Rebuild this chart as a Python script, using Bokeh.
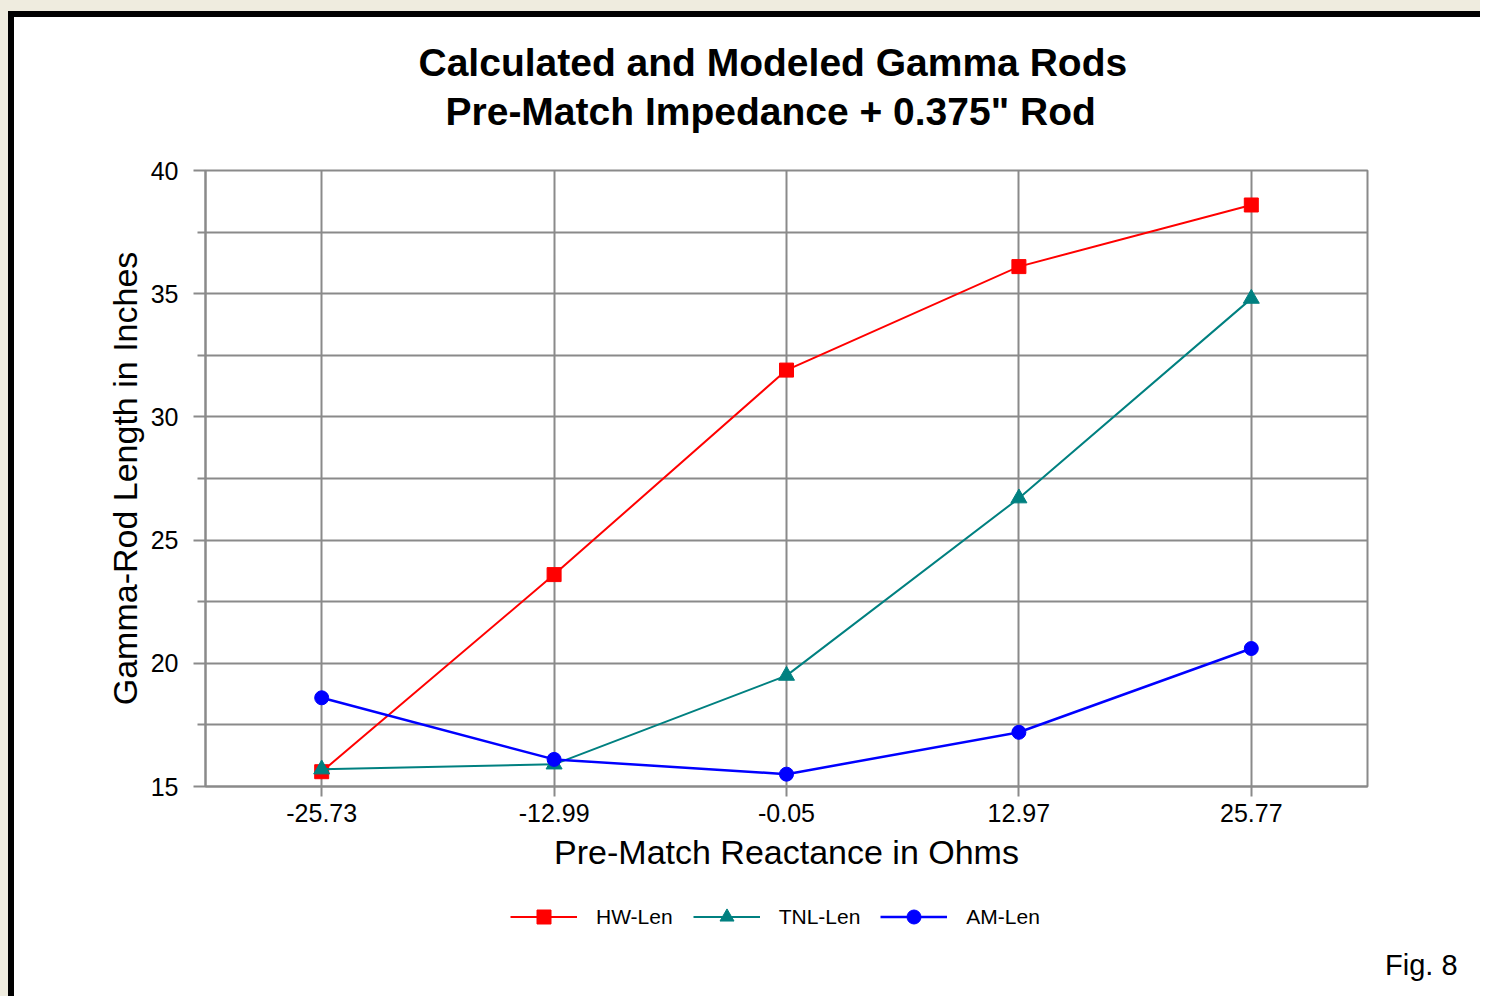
from bokeh.plotting import figure
from bokeh.models import (FactorRange, Range1d, FixedTicker, Legend, LegendItem,
                          Title, ColumnDataSource)
from bokeh.layouts import column
from bokeh.embed import file_html
from bokeh.resources import INLINE

# ---- data ----
reactance = ["-25.73", "-12.99", "-0.05", "12.97", "25.77"]
hw_len = [15.6, 23.6, 31.9, 36.1, 38.6]
tnl_len = [15.7, 15.9, 19.5, 26.7, 34.8]
am_len = [18.6, 16.1, 15.5, 17.2, 20.6]
y_ticks = [15, 20, 25, 30, 35, 40]
y_minor = [17.5, 22.5, 27.5, 32.5, 37.5]
series_names = ["HW-Len", "TNL-Len", "AM-Len"]
series_colors = ["#ff0000", "#008080", "#0000ff"]
series_markers = ["square", "triangle", "circle"]
series_marker_sizes = [14, 16, 14]
series_widths = [2, 2, 2.5]
fig_number = "Fig. 8"

FONT = "Liberation Sans"
GRID = "#8a8a8a"

p = figure(x_range=FactorRange(factors=reactance), y_range=Range1d(15, 40),
           frame_width=1162, frame_height=616, output_backend="svg",
           toolbar_location=None, title=None,
           min_border_left=191, min_border_right=113, min_border_top=153,
           min_border_bottom=100, background_fill_color="white",
           border_fill_color="white")

# titles (second-added sits above the first)
p.add_layout(Title(text="Pre-Match Impedance + 0.375\" Rod", align="left", offset=240,
                   text_font=FONT, text_font_size="39px", text_font_style="bold",
                   text_color="black", standoff=76), "above")
p.add_layout(Title(text="Calculated and Modeled Gamma Rods", align="left", offset=213,
                   text_font=FONT, text_font_size="39px", text_font_style="bold",
                   text_color="black", standoff=-68), "above")

p.outline_line_color = GRID
p.outline_line_width = 2

# grids
p.xgrid.grid_line_color = GRID
p.xgrid.grid_line_width = 2
p.ygrid.grid_line_color = GRID
p.ygrid.grid_line_width = 2
p.ygrid.minor_grid_line_color = GRID
p.ygrid.minor_grid_line_width = 2

# axes
p.yaxis.ticker = FixedTicker(ticks=y_ticks, minor_ticks=y_minor)
for ax in (p.xaxis[0], p.yaxis[0]):
    ax.axis_line_color = GRID
    ax.axis_line_width = 2
    ax.major_tick_line_color = GRID
    ax.major_tick_line_width = 2
    ax.minor_tick_line_color = GRID
    ax.minor_tick_line_width = 2
    ax.major_tick_in = 0
    ax.minor_tick_in = 0
    ax.major_label_text_font = FONT
    ax.major_label_text_font_size = "25px"
    ax.major_label_text_color = "black"
    ax.axis_label_text_font = FONT
    ax.axis_label_text_font_size = "34px"
    ax.axis_label_text_font_style = "normal"
    ax.axis_label_text_color = "black"

p.xaxis.major_tick_out = 10
p.xaxis.major_label_standoff = 7
p.xaxis.axis_label = "Pre-Match Reactance in Ohms"
p.xaxis.axis_label_standoff = 8

p.yaxis.major_tick_out = 12
p.yaxis.minor_tick_out = 8
p.yaxis.major_label_standoff = 15
p.yaxis.axis_label = "Gamma-Rod Length in Inches"
p.yaxis.axis_label_standoff = 4

src = ColumnDataSource(dict(x=reactance, hw=hw_len, tnl=tnl_len, am=am_len))
for col, color, mk, ms, lw in zip(["hw", "tnl", "am"], series_colors, series_markers,
                                  series_marker_sizes, series_widths):
    p.line("x", col, source=src, line_color=color, line_width=lw)
    p.scatter("x", col, source=src, marker=mk, size=ms,
              fill_color=color, line_color=color)

# ---- strip below the chart: legend and figure number ----
p2 = figure(frame_width=1466, frame_height=110, x_range=Range1d(0, 1466),
            y_range=Range1d(0, 110), output_backend="svg", toolbar_location=None,
            x_axis_type=None, y_axis_type=None,
            min_border=0, min_border_left=0, min_border_right=0,
            min_border_top=0, min_border_bottom=0,
            background_fill_color="white", border_fill_color="white")
p2.outline_line_color = None
p2.outline_line_alpha = 0

items = []
for name, color, mk, ms, lw in zip(series_names, series_colors, series_markers,
                                   series_marker_sizes, series_widths):
    swatch = ColumnDataSource(dict(x=[float("nan")], y=[float("nan")]))
    r1 = p2.line("x", "y", source=swatch, line_color=color, line_width=lw)
    r2 = p2.scatter("x", "y", source=swatch, marker=mk, size=ms,
                    fill_color=color, line_color=color)
    items.append(LegendItem(label=name, renderers=[r1, r2]))

legend = Legend(items=items, orientation="horizontal", location=(496, 62),
                label_text_font=FONT, label_text_font_size="21px",
                label_text_color="black", glyph_width=67, glyph_height=35,
                label_height=20, label_standoff=19, spacing=20, padding=0,
                margin=0, border_line_color=None, background_fill_alpha=0)
p2.add_layout(legend)

# figure number, laid out like the legend (text only, no swatch)
blank = ColumnDataSource(dict(x=[float("nan")], y=[float("nan")]))
r_blank = p2.line("x", "y", source=blank, line_alpha=0)
fig_note = Legend(items=[LegendItem(label=fig_number, renderers=[r_blank])],
                  orientation="horizontal", location=(1370, 14),
                  label_text_font=FONT, label_text_font_size="29px",
                  label_text_color="black", glyph_width=1, glyph_height=30,
                  label_height=30, label_standoff=0, padding=0, margin=0,
                  border_line_color=None, background_fill_alpha=0)
p2.add_layout(fig_note)

# white sheet holding both parts, so any sub-pixel seams show white
sheet = column(p, p2, spacing=0, styles={"background-color": "white"})
framed = column(sheet, styles={"background-color": "black", "padding-top": "6px",
                               "padding-left": "6px"})
layout = column(framed, styles={"background-color": "#efecdf", "padding-top": "11px",
                                "padding-left": "8px"})

open("out.html", "w").write(file_html(layout, INLINE))
